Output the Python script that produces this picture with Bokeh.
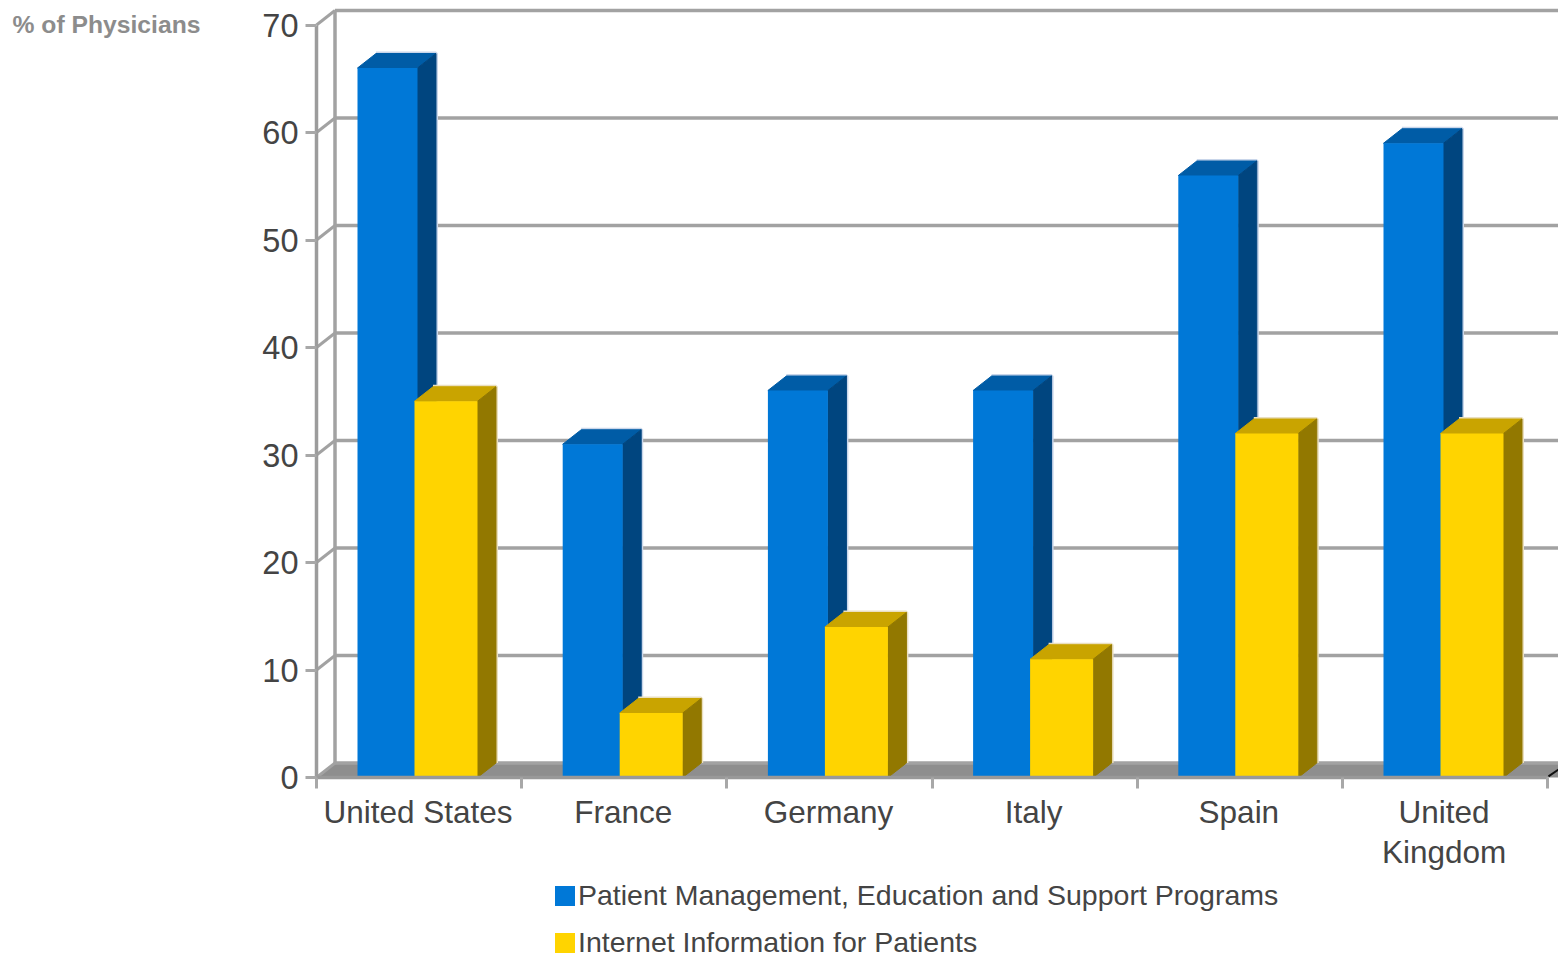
from bokeh.embed import file_html
from bokeh.resources import INLINE
from bokeh.plotting import figure
from bokeh.models import (ColumnDataSource, FixedTicker, Label, Legend, LegendItem,
                          LinearAxis, Range1d)

# Survey values, one per country
countries = ["United States", "France", "Germany", "Italy", "Spain", "United\nKingdom"]
programs = [66, 31, 36, 36, 56, 59]
internet = [35, 6, 14, 11, 32, 32]
y_ticks = [0, 10, 20, 30, 40, 50, 60, 70]
series_names = ["Patient Management, Education and Support Programs",
                "Internet Information for Patients"]

WIDTH, HEIGHT = 1558, 953
ORIGIN_X, ORIGIN_Y = 316, 777  # where the value and category axes meet on the page
TOP = 0
CAT_PX = 205.2
UNIT_PX = 10.75

# The frame fills the page; both axes are pinned to the data origin inside it
x_start = -ORIGIN_X / CAT_PX
x_end = (WIDTH - ORIGIN_X) / CAT_PX
y_start = -(HEIGHT - ORIGIN_Y) / UNIT_PX
y_end = (ORIGIN_Y - TOP) / UNIT_PX

# Oblique projection offsets for the fake depth, in data units
DX = 18.5 / CAT_PX
DY = 14.5 / UNIT_PX

GRID = "#a2a2a2"
AXIS = "#9c9c9c"
TEXT = "#444444"
FONT = "Liberation Sans"

p = figure(width=WIDTH, height=HEIGHT, output_backend="svg", toolbar_location=None,
           x_range=Range1d(x_start, x_end), y_range=Range1d(y_start, y_end),
           min_border=0, x_axis_type=None, y_axis_type=None,
           outline_line_color=None, background_fill_color="white",
           border_fill_color="white")
p.grid.visible = False

# Floor of the box
p.patch([0, DX, x_end, x_end, 0], [0, DY, DY, 0, 0], fill_color="#8e8e8e", line_color=None)

# Back wall: horizontal rules, and the diagonal joining each to the front axis
p.segment(x0=[DX] * len(y_ticks), y0=[v + DY for v in y_ticks],
          x1=[x_end] * len(y_ticks), y1=[v + DY for v in y_ticks],
          line_color=GRID, line_width=3.5)
p.segment(x0=[0] * len(y_ticks), y0=y_ticks,
          x1=[DX] * len(y_ticks), y1=[v + DY for v in y_ticks],
          line_color=GRID, line_width=3)
p.segment(x0=[DX], y0=[DY], x1=[DX], y1=[y_ticks[-1] + DY], line_color=GRID, line_width=3.5)


def draw_bars(values, left, width, front, top, side, halo):
    """Draw one series as extruded columns; returns the front-face renderer."""
    lefts = [i + left for i in range(len(values))]
    rights = [x + width for x in lefts]
    # Pale edge along the far side of each column
    p.multi_line(xs=[[x + DX, r + DX, r + DX] for x, r in zip(lefts, rights)],
                 ys=[[v + DY, v + DY, DY] for v in values],
                 line_color=halo, line_width=4)
    p.patches(xs=[[x, x + DX, r + DX, r] for x, r in zip(lefts, rights)],
              ys=[[v, v + DY, v + DY, v] for v in values],
              fill_color=top, line_color=top, line_width=1)
    p.patches(xs=[[r, r + DX, r + DX, r] for r in rights],
              ys=[[0, DY, v + DY, v] for v in values],
              fill_color=side, line_color=side, line_width=1)
    src = ColumnDataSource(dict(left=lefts, right=rights, top=values, bottom=[0] * len(values)))
    return p.quad(left="left", right="right", top="top", bottom="bottom", source=src,
                  fill_color=front, line_color=None)


blue = draw_bars(programs, 41 / CAT_PX, 60 / CAT_PX, "#0078d7", "#005ca6", "#00457f", "#c9d6ea")
yellow = draw_bars(internet, 98 / CAT_PX, 63 / CAT_PX, "#ffd400", "#c9a400", "#927800", "#eadfc0")

# Small dark stroke at the far corner of the floor
p.segment(x0=[x_end - 10 / CAT_PX], y0=[0.1], x1=[x_end], y1=[DY * 0.55],
          line_color="#111111", line_width=2)

y_axis = LinearAxis(ticker=FixedTicker(ticks=y_ticks), bounds=(0, 70), fixed_location=0)
y_axis.axis_line_color = AXIS
y_axis.axis_line_width = 3.5
y_axis.major_tick_line_color = "#a8a8a8"
y_axis.major_tick_line_width = 3
y_axis.major_tick_in = 0
y_axis.major_tick_out = 11
y_axis.minor_tick_line_color = None
y_axis.major_label_standoff = 7
y_axis.major_label_text_font = FONT
y_axis.major_label_text_font_size = "32.5px"
y_axis.major_label_text_color = TEXT
p.add_layout(y_axis, "left")

# Country names sit between the ticks, so labelled ticks are hidden and the minor ones drawn
x_axis = LinearAxis(ticker=FixedTicker(ticks=[i + 0.495 for i in range(len(countries))],
                                       minor_ticks=list(range(len(countries) + 1))),
                    bounds=(0, len(countries)), fixed_location=0)
x_axis.major_label_overrides = {i + 0.495: c for i, c in enumerate(countries)}
x_axis.axis_line_color = "#999999"
x_axis.axis_line_width = 3.5
x_axis.major_tick_line_color = None
x_axis.minor_tick_line_color = "#a8a8a8"
x_axis.minor_tick_line_width = 3
x_axis.minor_tick_in = 0
x_axis.minor_tick_out = 11
x_axis.major_label_standoff = 5
x_axis.major_label_text_font = FONT
x_axis.major_label_text_font_size = "31.5px"
x_axis.major_label_text_line_height = 1.13
x_axis.major_label_text_color = TEXT
p.add_layout(x_axis, "below")

legend = Legend(items=[LegendItem(label=series_names[0], renderers=[blue]),
                       LegendItem(label=series_names[1], renderers=[yellow])],
                location=(552, -6), orientation="vertical", border_line_color=None,
                background_fill_alpha=0, padding=0, margin=0, spacing=14,
                glyph_width=25, glyph_height=25, label_standoff=1,
                label_text_font=FONT, label_text_font_size="28.5px", label_text_color=TEXT,
                label_height=20)
p.add_layout(legend, "center")

p.add_layout(Label(x=12, y=HEIGHT - 24, x_units="screen", y_units="screen",
                   text="% of Physicians", text_font=FONT, text_font_size="24.7px",
                   text_font_style="bold", text_color="#8c8c8c", text_baseline="middle"))

open("out.html", "w").write(file_html(p, INLINE))
